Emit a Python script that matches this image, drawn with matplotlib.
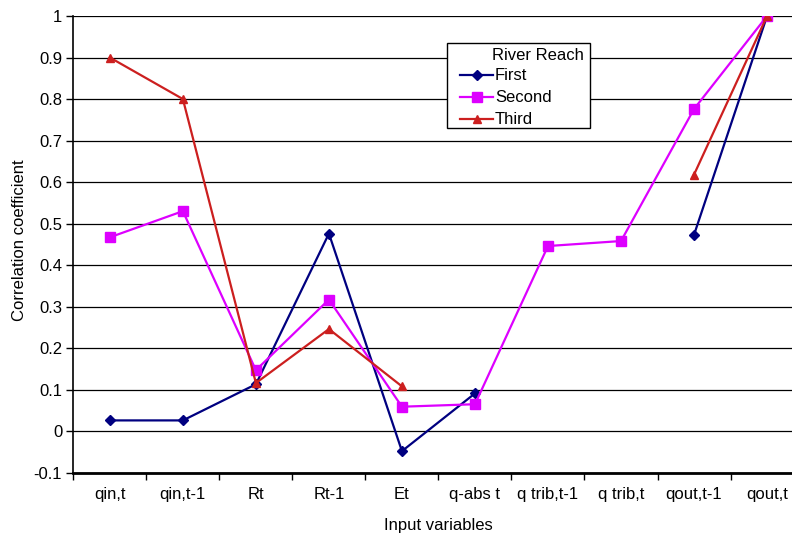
"""
correlation coefficients of input variables per river reach
"""

import numpy as np
from matplotlib import pyplot as plt
from matplotlib.patches import Rectangle

categories = ['qin,t', 'qin,t-1', 'Rt', 'Rt-1', 'Et', 'q-abs t',
              'q trib,t-1', 'q trib,t', 'qout,t-1', 'qout,t']

first = [0.026, 0.026, 0.113, 0.476, -0.048, 0.091,
         np.nan, np.nan, 0.473, 1.0]
second = [0.467, 0.530, 0.147, 0.317, 0.059, 0.065,
          0.446, 0.458, 0.776, 1.0]
third = [0.900, 0.800, 0.116, 0.246, 0.108, np.nan,
         np.nan, np.nan, 0.618, 1.0]

y_ticks = [-0.1, 0, 0.1, 0.2, 0.3, 0.4, 0.5, 0.6, 0.7, 0.8, 0.9, 1]
y_labels = ['-0.1', '0', '0.1', '0.2', '0.3', '0.4', '0.5',
            '0.6', '0.7', '0.8', '0.9', '1']

FS = 12
W, H = 792, 535

plt.rcParams['font.family'] = ['Liberation Sans', 'DejaVu Sans']

fig = plt.figure(figsize=(W / 100, H / 100), dpi=100)
ax = fig.add_axes([0.0926, 0.1164, 0.922, 0.8537])

x = np.arange(len(categories))

ax.plot(x, first, color='#000080', lw=1.6, marker='D', ms=5.5,
        label='First')
ax.plot(x, second, color='#dd00ff', lw=1.6, marker='s', ms=6.5,
        label='Second')
ax.plot(x, third, color='#cc1f1f', lw=1.6, marker='^', ms=5.5,
        label='Third')

ax.set_xlim(-0.5, len(categories) - 0.5)
ax.set_ylim(-0.1, 1)

# category labels centred, tick marks between categories
ax.set_xticks(x)
ax.set_xticklabels(categories, fontsize=FS)
ax.set_xticks(np.arange(len(categories) + 1) - 0.5, minor=True)
ax.tick_params(axis='x', which='major', length=0, pad=10)
ax.tick_params(axis='x', which='minor', length=5, width=1, direction='out')

ax.set_yticks(y_ticks)
ax.set_yticklabels(y_labels, fontsize=FS)
ax.tick_params(axis='y', length=5, width=1, direction='out', pad=3)

ax.grid(True, axis='y', color='black', lw=0.9)
ax.set_axisbelow(True)

for side in ['top', 'right']:
    ax.spines[side].set_visible(False)
ax.spines['left'].set_linewidth(1.2)
ax.spines['bottom'].set_linewidth(2)

ax.set_xlabel('Input variables', fontsize=FS, labelpad=12)
ax.set_ylabel('Correlation coefficient', fontsize=FS)
ax.yaxis.set_label_coords(-0.063, 0.51)

# legend box with title, Excel style
ax.add_patch(Rectangle((447 / W, 1 - 128 / H), 143 / W, 85 / H,
                       transform=fig.transFigure, facecolor='white',
                       edgecolor='black', lw=1, zorder=5, clip_on=False))
ax.text(538 / W, 1 - 55 / H, 'River Reach', fontsize=FS,
        transform=fig.transFigure, ha='center', va='center', zorder=6)
leg = ax.legend(loc='center left', bbox_to_anchor=(460 / W, 1 - 98 / H),
                bbox_transform=fig.transFigure, frameon=False,
                fontsize=FS, handlelength=2.0, handletextpad=0.1,
                borderpad=0, borderaxespad=0, labelspacing=0.42)
leg.set_zorder(7)

plt.savefig('out.png', dpi=100)
